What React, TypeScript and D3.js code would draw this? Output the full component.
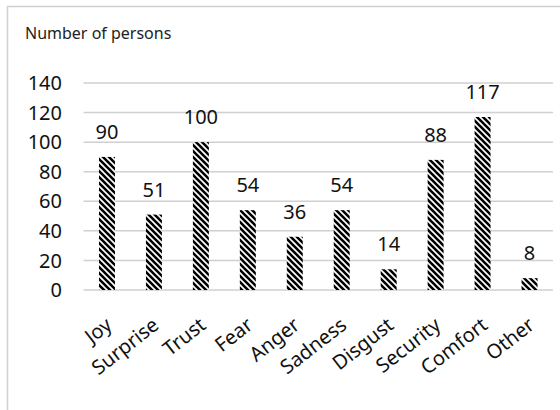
import React from "react";
import * as d3 from "d3";

const categories = ["Joy", "Surprise", "Trust", "Fear", "Anger", "Sadness", "Disgust", "Security", "Comfort", "Other"];
const persons = [90, 51, 100, 54, 36, 54, 14, 88, 117, 8];
const yTicks = [0, 20, 40, 60, 80, 100, 120, 140];
const axisTitle = "Number of persons";

const W = 560;
const H = 410;
const FONT = "'Noto Sans', 'Open Sans', sans-serif";

export default function App() {
  const x = d3
    .scaleBand<string>()
    .domain(categories)
    .range([83.5, 553])
    .paddingInner(0.66)
    .paddingOuter(0.33);
  const y = d3.scaleLinear().domain([0, 140]).range([290, 83]);
  const bw = x.bandwidth();

  return (
    <svg
      width={W}
      height={H}
      style={{ position: "absolute", left: 0, top: 0, background: "#fff" }}
      fontFamily={FONT}
    >
      <defs>
        <pattern id="wideDownDiag" patternUnits="userSpaceOnUse" width={6} height={6}>
          <rect width={6} height={6} fill="#fff" />
          <path d="M-3,-3 L9,9 M-3,3 L3,9 M3,-3 L9,3" stroke="#000" strokeWidth={2.6} />
        </pattern>
      </defs>

      {/* chart frame */}
      <rect x={7.5} y={6.5} width={W} height={H} fill="none" stroke="#d0d0d0" strokeWidth={1.5} />

      <text x={25} y={39} fontSize={16} fill="#222">
        {axisTitle}
      </text>

      {/* gridlines */}
      {yTicks.map((t) => (
        <line
          key={t}
          x1={83.5}
          x2={553}
          y1={y(t)}
          y2={y(t)}
          stroke="#d0d0d0"
          strokeWidth={1.5}
        />
      ))}

      {/* y tick labels */}
      {yTicks.map((t) => (
        <text key={t} x={62} y={y(t)} dy="0.36em" textAnchor="end" fontSize={20} fill="#111">
          {t}
        </text>
      ))}

      {/* bars */}
      {categories.map((c, i) => (
        <rect
          key={c}
          x={x(c)}
          y={y(persons[i])}
          width={bw}
          height={y(0) - y(persons[i])}
          fill="url(#wideDownDiag)"
        />
      ))}

      {/* value labels */}
      {categories.map((c, i) => (
        <text
          key={c}
          x={(x(c) as number) + bw / 2}
          y={y(persons[i]) - 18}
          textAnchor="middle"
          fontSize={20}
          fill="#111"
        >
          {persons[i]}
        </text>
      ))}

      {/* category labels */}
      {categories.map((c) => (
        <text
          key={c}
          transform={`translate(${(x(c) as number) + bw / 2 + 2},${322}) rotate(-38)`}
          textAnchor="end"
          dy="0.35em"
          fontSize={20}
          fill="#111"
        >
          {c}
        </text>
      ))}
    </svg>
  );
}
